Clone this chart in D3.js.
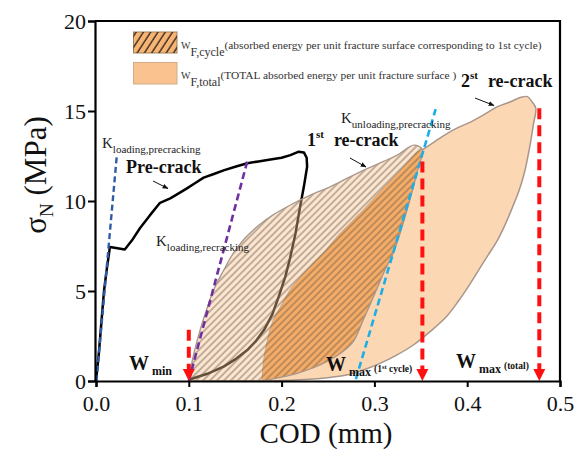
<!DOCTYPE html>
<html><head><meta charset="utf-8">
<script src="https://cdn.jsdelivr.net/npm/d3@7"></script>
</head>
<body style="margin:0;background:#fff"><svg id="c" width="575" height="451" style="display:block"></svg>
<script>
// ---- data (COD in mm, sigma_N in MPa) ----
const preCrackCOD   = [0,0.003,0.0086,0.0116,0.015,0.02,0.031,0.0386,0.0475,0.058,0.069,0.08,0.09,0.098,0.107,0.116,0.127,0.1375,0.15,0.163,0.175,0.188,0.2,0.2095,0.2185,0.224,0.227,0.2275,0.224,0.22,0.215,0.209,0.204,0.197,0.19,0.181,0.172,0.163,0.15,0.1375,0.12,0.1015,0.1];
const preCrackSigma = [0,1.5,5.0,6.2,7.45,7.4,7.3,7.8,8.5,9.2,9.9,10.15,10.45,10.7,11.0,11.3,11.5,11.7,11.9,12.1,12.2,12.3,12.4,12.55,12.74,12.7,12.4,11.9,10.8,9.7,8.2,6.8,5.8,4.7,3.7,2.83,2.2,1.72,1.2,0.8,0.4,0.1,0];

const cycleLoadCOD   = [0.1,0.104,0.112,0.12,0.1267,0.137,0.148,0.16,0.1735,0.19,0.2095,0.23,0.2527,0.272,0.2923,0.31,0.3247,0.3427,0.3517];
const cycleLoadSigma = [0,1.2,2.8,4.1,5.06,6.1,7.1,7.9,8.57,9.2,9.78,10.3,10.8,11.3,11.8,12.2,12.55,13.1,12.85];

const cycleUnloadCOD   = [0.3517,0.347,0.339,0.33,0.321,0.31,0.3,0.288,0.277,0.265,0.252,0.235,0.2167,0.2,0.185,0.179];
const cycleUnloadSigma = [12.85,11.8,10.2,8.6,7.2,6.0,4.8,3.39,2.18,1.6,1.17,0.75,0.43,0.22,0.06,0];

const totalLoadCOD   = [0.179,0.182,0.19,0.2,0.2095,0.222,0.2347,0.247,0.26,0.276,0.292,0.308,0.3247,0.338,0.346,0.3517];
const totalLoadSigma = [0,1.5,3.2,4.2,5.06,5.85,6.54,7.2,8.0,8.85,9.7,10.6,11.5,12.25,12.7,12.85];

const totalUpperCOD   = [0.3517,0.365,0.3787,0.391,0.404,0.418,0.4327,0.446,0.458,0.465,0.47,0.474];
const totalUpperSigma = [12.85,13.3,13.76,14.1,14.4,14.8,15.24,15.5,15.76,15.8,15.5,15.15];

const totalUnloadCOD   = [0.474,0.4715,0.4687,0.4655,0.4615,0.456,0.449,0.441,0.4327,0.422,0.411,0.4,0.39,0.378,0.36,0.342,0.324,0.306,0.288,0.27,0.252,0.23,0.2,0.179];
const totalUnloadSigma = [15.15,14.3,13.4,12.5,11.54,10.6,9.68,8.7,7.83,6.95,6.05,5.15,4.4,3.6,2.74,2.0,1.44,0.98,0.61,0.33,0.2,0.1,0.03,0];

const kLoadPreCOD = [0.0005,0.0223], kLoadPreSigma = [0,12.45];
const kLoadReCOD  = [0.1,0.163],     kLoadReSigma  = [0,12.2];
const kUnloadCOD  = [0.28,0.366],    kUnloadSigma  = [0.1,15.1];

const wMarkCOD   = [0.1,0.3517,0.4777];
const wMarkSigma = [2.85,12.2,15.15];

const xTicks = [0,0.1,0.2,0.3,0.4,0.5];
const xTickLabels = ["0.0","0.1","0.2","0.3","0.4","0.5"];
const yTicks = [0,5,10,15,20];
const yTickLabels = ["0","5","10","15","20"];

// ---- drawing ----
const SERIF = "Liberation Serif";
const svg = d3.select("#c");
const x = d3.scaleLinear().domain([0,0.5]).range([96,560]);
const y = d3.scaleLinear().domain([0,20]).range([381,21]);
const zip = (a,b)=>a.map((v,i)=>[v,b[i]]);
const line = d3.line().x(d=>x(d[0])).y(d=>y(d[1]));
const smooth = d3.line().x(d=>x(d[0])).y(d=>y(d[1])).curve(d3.curveCatmullRom.alpha(0.5));

const defs = svg.append("defs");
const pat = defs.append("pattern").attr("id","hatch").attr("patternUnits","userSpaceOnUse")
  .attr("width",4.9).attr("height",10).attr("patternTransform","rotate(45)");
pat.append("line").attr("x1",1).attr("x2",1).attr("y1",0).attr("y2",10)
  .attr("stroke","#6b5a4a").attr("stroke-opacity",0.75).attr("stroke-width",1.1);
const pat2 = defs.append("pattern").attr("id","hatchLeg").attr("patternUnits","userSpaceOnUse")
  .attr("width",6.1).attr("height",10).attr("patternTransform","translate(134,0) rotate(33)");
pat2.append("line").attr("x1",1).attr("x2",1).attr("y1",0).attr("y2",10)
  .attr("stroke","#3b2a1c").attr("stroke-width",1.4);

const totalPoly = zip(totalLoadCOD,totalLoadSigma)
  .concat(zip(totalUpperCOD,totalUpperSigma).slice(1))
  .concat(zip(totalUnloadCOD,totalUnloadSigma).slice(1));
const cyclePoly = zip(cycleLoadCOD,cycleLoadSigma)
  .concat(zip(cycleUnloadCOD,cycleUnloadSigma).slice(1));
const overlapPoly = zip(totalLoadCOD,totalLoadSigma)
  .concat(zip(cycleUnloadCOD,cycleUnloadSigma).slice(1));

// total region
svg.append("path").attr("d",smooth(totalPoly)+"Z").attr("fill","#fcd7b4")
  .attr("stroke","#a8968a").attr("stroke-width",1.5);
// pre-crack curve
svg.append("path").attr("d",line(zip(preCrackCOD,preCrackSigma))).attr("fill","none")
  .attr("stroke","#000").attr("stroke-width",2.5).attr("stroke-linejoin","round");
// cycle region
svg.append("path").attr("d",smooth(cyclePoly)+"Z").attr("fill","#f9c08a").attr("fill-opacity",0.4);
svg.append("path").attr("d",smooth(overlapPoly)+"Z").attr("fill","#f5ac66");
svg.append("path").attr("d",smooth(cyclePoly)+"Z").attr("fill","url(#hatch)")
  .attr("stroke","#a8968a").attr("stroke-width",1.3);

// stiffness lines
function dashed(cx,cy,col,w,da){
  svg.append("path").attr("d",line(zip(cx,cy))).attr("stroke",col).attr("stroke-width",w)
    .attr("stroke-dasharray",da).attr("fill","none");
}
dashed(kLoadPreCOD,kLoadPreSigma,"#2f5ca8",2.4,"6,3.5");
dashed(kLoadReCOD,kLoadReSigma,"#7030a0",2.6,"7,4");
dashed(kUnloadCOD,kUnloadSigma,"#1eaee6",2.6,"7,4");

// red arrows
wMarkCOD.forEach((c,i)=>{
  svg.append("line").attr("x1",x(c)).attr("x2",x(c)).attr("y1",y(wMarkSigma[i])).attr("y2",y(0)-10)
    .attr("stroke","#ff1010").attr("stroke-width",4).attr("stroke-dasharray","11,6");
  svg.append("path").attr("d",`M${x(c)-6},${y(0)-12}L${x(c)+6},${y(0)-12}L${x(c)},${y(0)}Z`).attr("fill","#ff1010");
});

// axes
const gx = svg.append("g").attr("transform","translate(0,381)");
gx.call(d3.axisBottom(x).tickValues(d3.range(0,0.5001,0.05)).tickSize(4).tickFormat(""));
gx.call(d3.axisBottom(x).tickValues(xTicks).tickSize(6).tickFormat((d,i)=>xTickLabels[i]));
const gy = svg.append("g").attr("transform","translate(95,0)");
gy.call(d3.axisLeft(y).tickValues(d3.range(0,20.01,2.5)).tickSize(4).tickFormat(""));
gy.call(d3.axisLeft(y).tickValues(yTicks).tickSize(7).tickFormat((d,i)=>yTickLabels[i]));
svg.selectAll(".domain").attr("stroke","#000").attr("stroke-width",2.2);
svg.selectAll(".tick line").attr("stroke","#000").attr("stroke-width",2);
gx.selectAll("text").attr("font-size",22).attr("fill","#111").attr("dy","0.95em");
gy.selectAll("text").attr("font-size",22).attr("fill","#111").attr("x",-9);
svg.append("path").attr("d","M95,21H560V381").attr("fill","none").attr("stroke","#000").attr("stroke-width",2.2);

// axis titles
svg.append("text").attr("x",326).attr("y",443).attr("text-anchor","middle").attr("font-size",29).attr("fill","#111").text("COD (mm)");
const yl = svg.append("text").attr("transform","translate(46,175) rotate(-90)").attr("text-anchor","middle").attr("font-size",31).attr("fill","#111");
yl.append("tspan").text("σ");
yl.append("tspan").attr("font-size",19).attr("dy",7).text("N");
yl.append("tspan").attr("dy",-7).text(" (MPa)");

// legend
svg.append("rect").attr("x",133.5).attr("y",32).attr("width",43.5).attr("height",21).attr("fill","#f6b575").attr("stroke","#a0805c");
svg.append("rect").attr("x",133.5).attr("y",32).attr("width",43.5).attr("height",21).attr("fill","url(#hatchLeg)");
svg.append("rect").attr("x",133.5).attr("y",62.5).attr("width",43.5).attr("height",21.5).attr("fill","#f9c28f").attr("stroke","#d1ad8a");
function legText(yb,sub,desc){
  const t = svg.append("text").attr("x",181).attr("y",yb).attr("fill","#333");
  t.append("tspan").attr("font-size",10).text("W");
  t.append("tspan").attr("font-size",12).attr("dy",7).text(sub);
  t.append("tspan").attr("font-size",11.4).attr("dy",-7).text(desc);
}
legText(49,"F,cycle","(absorbed energy per unit fracture surface corresponding to 1st cycle)");
legText(79,"F,total","(TOTAL absorbed energy per unit fracture surface )");

// K labels
function kLabel(xp,yb,sub){
  const t = svg.append("text").attr("x",xp).attr("y",yb).attr("fill","#222");
  t.append("tspan").attr("font-size",15).text("K");
  t.append("tspan").attr("font-size",11).attr("dy",5).text(sub);
}
kLabel(102,148,"loading,precracking");
kLabel(156,246,"loading,recracking");
kLabel(341,123,"unloading,precracking");

// bold labels
function boldLabel(xp,yb,sup,main){
  const t = svg.append("text").attr("x",xp).attr("y",yb).attr("font-weight","bold").attr("fill","#111");
  if(sup!==null){
    t.append("tspan").attr("font-size",18).text(sup[0]);
    t.append("tspan").attr("font-size",11).attr("dy",-8).text(sup[1]);
    t.append("tspan").attr("font-size",18).attr("dy",8).attr("dx",10).text(main);
  } else t.append("tspan").attr("font-size",18).text(main);
}
boldLabel(126,173,null,"Pre-crack");
boldLabel(307,146,["1","st"],"re-crack");
boldLabel(461,87,["2","st"],"re-crack");

// small arrows
defs.append("marker").attr("id","ah").attr("viewBox","0 0 10 10").attr("refX",9).attr("refY",5)
  .attr("markerWidth",6).attr("markerHeight",6).attr("orient","auto")
  .append("path").attr("d","M0,1L10,5L0,9Z").attr("fill","#111");
[[153,181,168,188.5],[350,158,366,167],[475,98,494,105.5]].forEach(a=>{
  svg.append("line").attr("x1",a[0]).attr("y1",a[1]).attr("x2",a[2]).attr("y2",a[3])
    .attr("stroke","#111").attr("stroke-width",1).attr("marker-end","url(#ah)");
});

// W labels
function wLabel(xp,yb,sub,sup){
  const t = svg.append("text").attr("x",xp).attr("y",yb).attr("font-weight","bold").attr("fill","#111");
  t.append("tspan").attr("font-size",20).text("W");
  t.append("tspan").attr("font-size",12).attr("dx",3).attr("dy",5).text(sub);
  if(sup){
    t.append("tspan").attr("font-size",9.5).attr("dx",3).attr("dy",-4).text(sup[0]);
    if(sup.length>1){
      t.append("tspan").attr("font-size",6.5).attr("dy",-3).text(sup[1]);
      t.append("tspan").attr("font-size",9.5).attr("dy",3).text(sup[2]);
    }
  }
}
wLabel(129,370,"min",null);
wLabel(326,371,"max",["(1","st"," cycle)"]);
wLabel(456,368,"max",["(total)"]);

// serif everywhere
svg.selectAll("text").style("font-family",SERIF);
</script></body></html>
